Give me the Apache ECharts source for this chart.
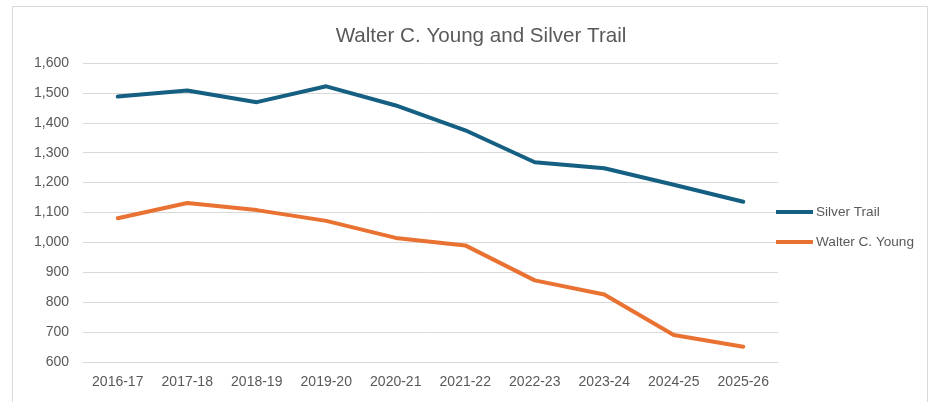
<!DOCTYPE html>
<html>
<head>
<meta charset="utf-8">
<script src="https://cdn.jsdelivr.net/npm/echarts@6/dist/echarts.min.js"></script>
<style>
html,body{margin:0;padding:0;background:#fff;}
#chart{width:937px;height:402px;}
</style>
</head>
<body>
<div id="chart"></div>
<script>
const categories = ['2016-17','2017-18','2018-19','2019-20','2020-21','2021-22','2022-23','2023-24','2024-25','2025-26'];
const silverTrail = [1488,1508,1469,1522,1458,1375,1268,1248,1193,1136];
const walterCYoung = [1081,1132,1108,1072,1015,990,873,826,690,651];
const yTicks = {min:600, max:1600, interval:100};

const chart = echarts.init(document.getElementById('chart'));
const font = "'Liberation Sans', Arial, sans-serif";
chart.setOption({
  backgroundColor:'#ffffff',
  animation:false,
  title:{
    text:'Walter C. Young and Silver Trail',
    left:476, top:21, textAlign:'center',
    textStyle:{fontFamily:font, fontSize:20.6, fontWeight:'normal', color:'#595959'}
  },
  graphic:[{
    type:'rect', silent:true,
    shape:{x:12.5,y:6.5,width:915,height:430},
    style:{fill:'none', stroke:'#D9D9D9', lineWidth:1}
  }],
  legend:{
    orient:'vertical', left:776, top:204, padding:0,
    icon:'rect', itemWidth:37, itemHeight:4, itemGap:14,
    textStyle:{fontFamily:font, fontSize:13.6, color:'#595959', lineHeight:16, padding:[0,0,0,-2]},
    data:['Silver Trail','Walter C. Young']
  },
  grid:{left:83, right:159, top:63, bottom:40, containLabel:false},
  xAxis:{
    type:'category', data:categories, boundaryGap:true,
    axisLine:{show:true, lineStyle:{color:'#D9D9D9', width:1}},
    axisTick:{show:false},
    axisLabel:{fontFamily:font, fontSize:14, color:'#595959', margin:13}
  },
  yAxis:{
    type:'value', min:yTicks.min, max:yTicks.max, interval:yTicks.interval,
    axisLine:{show:false}, axisTick:{show:false},
    splitLine:{lineStyle:{color:'#D9D9D9', width:1}},
    axisLabel:{fontFamily:font, fontSize:14, color:'#595959', margin:14,
      formatter:v=>v.toLocaleString('en-US')}
  },
  series:[
    {name:'Silver Trail', type:'line', data:silverTrail, symbol:'none',
     color:'#156082', lineStyle:{width:4, color:'#156082', cap:'round', join:'round'}},
    {name:'Walter C. Young', type:'line', data:walterCYoung, symbol:'none',
     color:'#E97132', lineStyle:{width:4, color:'#E97132', cap:'round', join:'round'}}
  ]
});
</script>
</body>
</html>
